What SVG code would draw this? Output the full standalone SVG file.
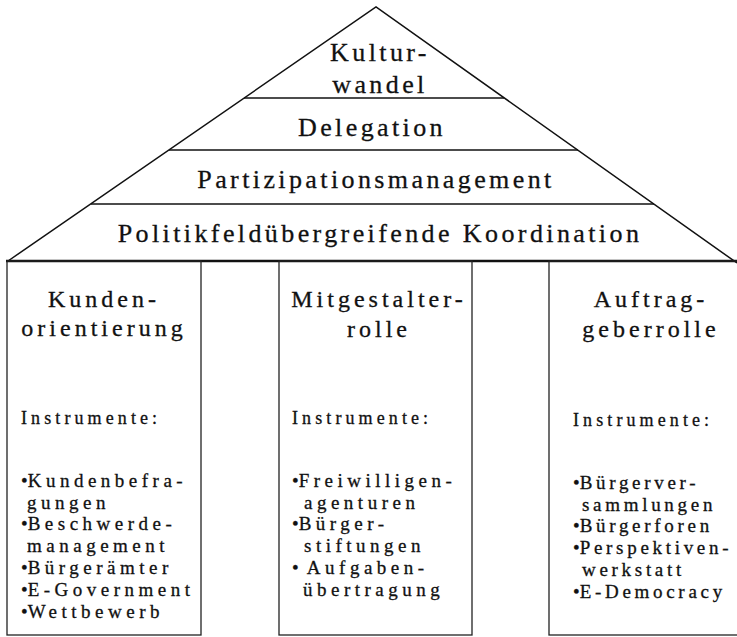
<svg xmlns="http://www.w3.org/2000/svg" width="737" height="637" viewBox="0 0 737 637">
<style>
  .edge{fill:none;stroke:#111;stroke-width:1.5;stroke-linejoin:miter}
  .sep{stroke:#111;stroke-width:1.5}
  .base{stroke:#111;stroke-width:2.6}
  .box{fill:none;stroke:#222;stroke-width:1.3}
  text{font-family:'Liberation Serif','Times New Roman',Tinos,'DejaVu Serif',serif;fill:#111;stroke:#111;stroke-width:0.3}
  .lvl{font-size:26px;letter-spacing:3.4px;text-anchor:middle}
  .hd{font-size:24px;letter-spacing:4px;text-anchor:middle}
  .ins{font-size:18px;letter-spacing:4.1px}
  .it{font-size:19px;letter-spacing:4.5px}
  .it3{font-size:19px;letter-spacing:3.7px}
  .b{letter-spacing:0}
</style>
<rect width="737" height="637" fill="#fff"/>

<g id="connectors">
  <polyline class="edge" points="8,261 376,7 737,263"/>
  <line class="sep" x1="244" y1="98" x2="504" y2="98"/>
  <line class="sep" x1="169" y1="150" x2="578" y2="150"/>
  <line class="sep" x1="91" y1="204" x2="654" y2="204"/>
  <line class="base" x1="6" y1="261" x2="737" y2="261"/>
</g>

<g id="level-kulturwandel">
  <text class="lvl" x="380" y="61">Kultur-</text>
  <text class="lvl" x="380" y="93">wandel</text>
</g>
<g id="level-delegation">
  <text class="lvl" x="372" y="136">Delegation</text>
</g>
<g id="level-partizipation">
  <text class="lvl" x="376" y="188">Partizipationsmanagement</text>
</g>
<g id="level-koordination">
  <text class="lvl" x="380" y="242">Politikfeldübergreifende Koordination</text>
</g>

<g id="pillar-kundenorientierung">
  <rect class="box" x="7" y="261" width="194" height="374"/>
  <text class="hd" x="104" y="307">Kunden-</text>
  <text class="hd" x="104" y="336">orientierung</text>
  <text class="ins" x="21" y="424">Instrumente:</text>
  <text class="it" x="21" y="487"><tspan class="b">•</tspan>Kundenbefra-</text>
  <text class="it" x="27" y="509">gungen</text>
  <text class="it" x="21" y="530"><tspan class="b">•</tspan>Beschwerde-</text>
  <text class="it" x="27" y="552">management</text>
  <text class="it" x="21" y="574"><tspan class="b">•</tspan>Bürgerämter</text>
  <text class="it" x="21" y="596"><tspan class="b">•</tspan>E-Government</text>
  <text class="it" x="21" y="618"><tspan class="b">•</tspan>Wettbewerb</text>
</g>

<g id="pillar-mitgestalterrolle">
  <rect class="box" x="279" y="261" width="193" height="374"/>
  <text class="hd" x="379" y="307">Mitgestalter-</text>
  <text class="hd" x="379" y="337">rolle</text>
  <text class="ins" x="292" y="424">Instrumente:</text>
  <text class="it" x="292" y="487"><tspan class="b">•</tspan>Freiwilligen-</text>
  <text class="it" x="304" y="509">agenturen</text>
  <text class="it" x="292" y="530"><tspan class="b">•</tspan>Bürger-</text>
  <text class="it" x="304" y="552">stiftungen</text>
  <text class="it" x="292" y="574"><tspan class="b">•</tspan> Aufgaben-</text>
  <text class="it" x="303" y="596">übertragung</text>
</g>

<g id="pillar-auftraggeberrolle">
  <rect class="box" x="549" y="261" width="192" height="374"/>
  <text class="hd" x="651" y="307">Auftrag-</text>
  <text class="hd" x="651" y="337">geberrolle</text>
  <text class="ins" x="573" y="426">Instrumente:</text>
  <text class="it3" x="573" y="489"><tspan class="b">•</tspan>Bürgerver-</text>
  <text class="it3" x="582" y="511">sammlungen</text>
  <text class="it3" x="573" y="532"><tspan class="b">•</tspan>Bürgerforen</text>
  <text class="it3" x="573" y="554"><tspan class="b">•</tspan>Perspektiven-</text>
  <text class="it3" x="582" y="576">werkstatt</text>
  <text class="it3" x="573" y="598"><tspan class="b">•</tspan>E-Democracy</text>
</g>
</svg>
